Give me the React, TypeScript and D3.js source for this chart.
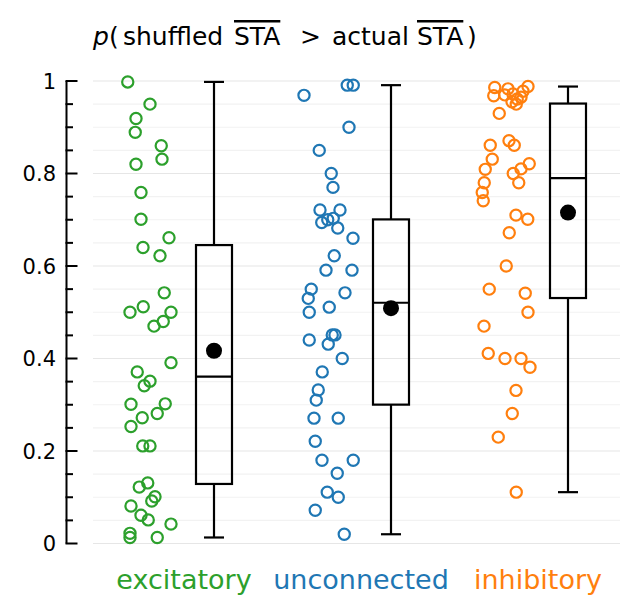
import React from "react";
import * as d3 from "d3";

const categories = ["excitatory", "unconnected", "inhibitory"];
const colors = ["#2ca02c", "#1f77b4", "#ff7f0e"];

const excitatoryValues = [0.998, 0.95, 0.919, 0.889, 0.86, 0.831, 0.82, 0.759, 0.701, 0.661, 0.64, 0.622, 0.542, 0.512, 0.5, 0.5, 0.48, 0.47, 0.391, 0.371, 0.351, 0.341, 0.301, 0.302, 0.281, 0.272, 0.253, 0.211, 0.211, 0.131, 0.122, 0.101, 0.092, 0.081, 0.061, 0.051, 0.042, 0.022, 0.013, 0.013];
const excitatoryJitter = [-0.89, 0, -0.56, -0.59, 0.45, 0.48, -0.56, -0.36, -0.36, 0.76, -0.28, 0.4, 0.57, -0.27, -0.8, 0.84, 0.53, 0.16, 0.84, -0.51, 0, -0.23, -0.76, 0.61, 0.29, -0.31, -0.76, -0.29, 0, -0.09, -0.43, 0.2, 0.07, -0.76, -0.36, -0.07, 0.84, -0.8, -0.8, 0.29];

const unconnectedValues = [0.991, 0.991, 0.969, 0.9, 0.85, 0.8, 0.77, 0.721, 0.721, 0.703, 0.7, 0.694, 0.682, 0.66, 0.622, 0.591, 0.591, 0.55, 0.542, 0.53, 0.511, 0.5, 0.451, 0.451, 0.44, 0.431, 0.4, 0.371, 0.332, 0.31, 0.271, 0.271, 0.221, 0.18, 0.18, 0.152, 0.111, 0.1, 0.072, 0.02];
const unconnectedJitter = [0.81, 1.05, -0.92, 0.88, -0.31, 0.17, 0.24, -0.28, 0.52, 0.25, 0.03, -0.21, 0.43, 1.04, 0.29, -0.04, 1.0, -0.63, 0.72, -0.75, 0.09, -0.71, 0.21, 0.32, -0.71, 0.05, 0.61, -0.19, -0.35, -0.43, -0.52, 0.45, -0.47, -0.2, 1.05, 0.41, 0.01, 0.45, -0.47, 0.69];

const inhibitoryValues = [0.988, 0.986, 0.983, 0.978, 0.972, 0.97, 0.968, 0.965, 0.961, 0.955, 0.95, 0.93, 0.871, 0.861, 0.861, 0.831, 0.821, 0.81, 0.809, 0.8, 0.78, 0.78, 0.759, 0.741, 0.71, 0.701, 0.672, 0.6, 0.55, 0.541, 0.5, 0.47, 0.411, 0.4, 0.4, 0.381, 0.331, 0.281, 0.23, 0.111];
const inhibitoryJitter = [0.96, -0.37, 0.16, 0.76, 0.36, 0.03, -0.41, 0.68, 0.53, 0.32, 0.49, -0.19, 0.2, -0.55, 0.41, -0.47, 1.01, 0.68, -0.75, 0.37, -0.79, 0.59, -0.87, -0.83, 0.48, 0.95, 0.21, 0.09, -0.59, 0.85, 0.96, -0.8, -0.63, 0.04, 0.68, 1.04, 0.48, 0.33, -0.23, 0.49];

const groupValues = [excitatoryValues, unconnectedValues, inhibitoryValues];
const groupJitter = [excitatoryJitter, unconnectedJitter, inhibitoryJitter];

const majorTicks = [0, 0.2, 0.4, 0.6, 0.8, 1];
const tickLabels = ["0", "0.2", "0.4", "0.6", "0.8", "1"];
const minorTicks = d3.range(0, 1.0001, 0.05);

const FONT = "DejaVu Sans, sans-serif";

function boxStats(vals: number[]) {
  const s = [...vals].sort(d3.ascending);
  const q1 = d3.quantile(s, 0.25)!;
  const med = d3.quantile(s, 0.5)!;
  const q3 = d3.quantile(s, 0.75)!;
  const iqr = q3 - q1;
  const hi = d3.max(s.filter((v) => v <= q3 + 1.5 * iqr))!;
  const lo = d3.min(s.filter((v) => v >= q1 - 1.5 * iqr))!;
  const mean = d3.mean(s)!;
  return { q1, med, q3, hi, lo, mean };
}

export default function App() {
  const W = 641;
  const H = 615;
  const y = d3.scaleLinear().domain([0, 1]).range([543.5, 81]);
  const x = d3.scalePoint<string>().domain(categories).range([182, 536]);
  const jitter = d3.scaleLinear().domain([-1, 1]).range([-57, -7]);
  const boxOffset = 32;
  const boxW = 36;
  const capW = 20;
  const axisX = 66.5;
  const gridX0 = 93;
  const gridX1 = 620;

  return (
    <svg width={W} height={H} style={{ position: "absolute", left: 0, top: 0 }} fontFamily={FONT}>
      <rect width={W} height={H} fill="#fff" />
      {minorTicks.map((t, i) => {
        const major = Math.abs(Math.round(t / 0.2) * 0.2 - t) < 1e-6;
        return (
          <line key={"g" + i} x1={gridX0} x2={gridX1} y1={y(t)} y2={y(t)} stroke={major ? "#e6e6e6" : "#f2f2f2"} strokeWidth={1.2} />
        );
      })}
      <line x1={axisX} x2={axisX} y1={y(1)} y2={y(0)} stroke="#000" strokeWidth={2} />
      {minorTicks.map((t, i) => {
        const major = Math.abs(Math.round(t / 0.2) * 0.2 - t) < 1e-6;
        return <line key={"t" + i} x1={axisX - 1} x2={axisX + (major ? 11 : 6.5)} y1={y(t)} y2={y(t)} stroke="#000" strokeWidth={2} />;
      })}
      {majorTicks.map((t, i) => (
        <text key={"l" + i} x={56} y={y(t)} dy="0.36em" textAnchor="end" fontSize={21} fill="#000">
          {tickLabels[i]}
        </text>
      ))}
      {categories.map((c, gi) => {
        const st = boxStats(groupValues[gi]);
        const cx = x(c)! + boxOffset;
        return (
          <g key={c}>
            {groupValues[gi].map((v, i) => (
              <circle key={i} cx={x(c)! + jitter(groupJitter[gi][i])} cy={y(v)} r={5.6} fill="none" stroke={colors[gi]} strokeWidth={2.2} />
            ))}
            <line x1={cx} x2={cx} y1={y(st.q3)} y2={y(st.hi)} stroke="#000" strokeWidth={2.2} />
            <line x1={cx} x2={cx} y1={y(st.q1)} y2={y(st.lo)} stroke="#000" strokeWidth={2.2} />
            <line x1={cx - capW / 2} x2={cx + capW / 2} y1={y(st.hi)} y2={y(st.hi)} stroke="#000" strokeWidth={2.2} />
            <line x1={cx - capW / 2} x2={cx + capW / 2} y1={y(st.lo)} y2={y(st.lo)} stroke="#000" strokeWidth={2.2} />
            <rect x={cx - boxW / 2} y={y(st.q3)} width={boxW} height={y(st.q1) - y(st.q3)} fill="none" stroke="#000" strokeWidth={2.2} />
            <line x1={cx - boxW / 2} x2={cx + boxW / 2} y1={y(st.med)} y2={y(st.med)} stroke="#000" strokeWidth={2.2} />
            <circle cx={cx} cy={y(st.mean)} r={8} fill="#000" />
            <text x={x(c)! + 2} y={589} textAnchor="middle" fontSize={27} fill={colors[gi]}>
              {c}
            </text>
          </g>
        );
      })}
      <text y={45} fontSize={25} fill="#000">
        <tspan x={93} fontStyle="italic">p</tspan>
        <tspan>(</tspan>
        <tspan x={123}>shuffled</tspan>
        <tspan x={234} textDecoration="overline">STA</tspan>
        <tspan x={300}>&gt;</tspan>
        <tspan x={332}>actual</tspan>
        <tspan x={417} textDecoration="overline">STA</tspan>
        <tspan x={467}>)</tspan>
      </text>
    </svg>
  );
}
